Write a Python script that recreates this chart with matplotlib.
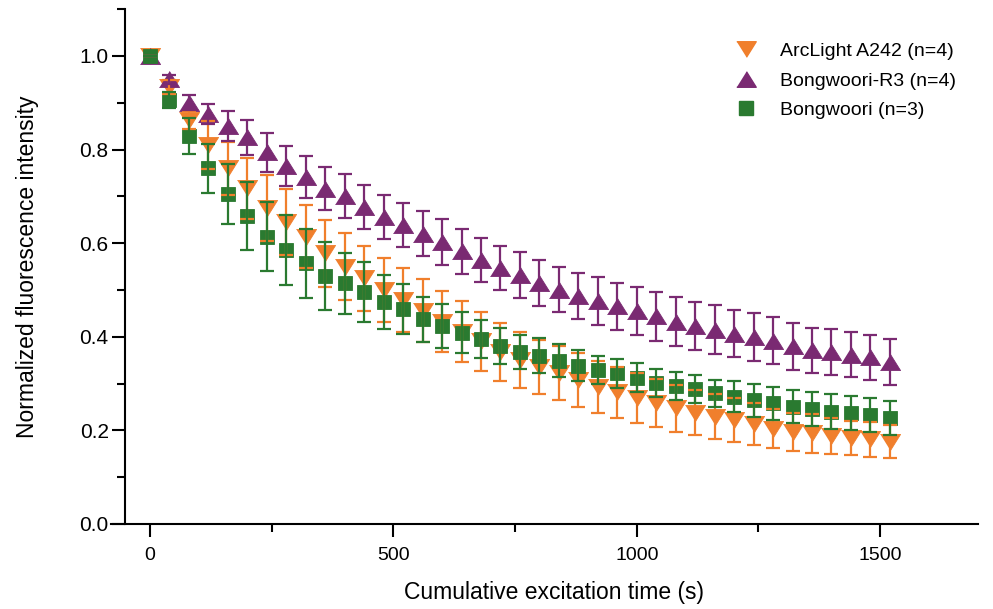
import matplotlib.pyplot as plt
from matplotlib.lines import Line2D

plt.rcParams['font.family'] = ['Liberation Sans', 'DejaVu Sans']

# cumulative excitation time (s)
time_s = [0, 40, 80, 120, 160, 200, 240, 280, 320, 360, 400, 440, 480, 520,
          560, 600, 640, 680, 720, 760, 800, 840, 880, 920, 960, 1000, 1040,
          1080, 1120, 1160, 1200, 1240, 1280, 1320, 1360, 1400, 1440, 1480, 1520]

# ArcLight A242 (n=4)
arclight = [1.0, 0.934, 0.863, 0.810, 0.760, 0.717, 0.675, 0.645, 0.614, 0.578,
            0.550, 0.525, 0.500, 0.479, 0.456, 0.432, 0.411, 0.390, 0.368, 0.350,
            0.336, 0.322, 0.308, 0.293, 0.281, 0.269, 0.258, 0.247, 0.238, 0.229,
            0.222, 0.214, 0.204, 0.197, 0.194, 0.188, 0.184, 0.181, 0.176]
arclight_sd = [0.0, 0.015, 0.020, 0.052, 0.057, 0.066, 0.071, 0.070, 0.068, 0.072,
               0.071, 0.069, 0.068, 0.068, 0.068, 0.065, 0.065, 0.063, 0.062, 0.060,
               0.058, 0.058, 0.057, 0.056, 0.054, 0.054, 0.051, 0.050, 0.048, 0.048,
               0.047, 0.045, 0.042, 0.040, 0.042, 0.038, 0.037, 0.037, 0.036]

# Bongwoori-R3 (n=4)
r3 = [1.0, 0.950, 0.900, 0.876, 0.850, 0.826, 0.794, 0.765, 0.741, 0.716,
      0.700, 0.678, 0.657, 0.639, 0.620, 0.602, 0.583, 0.564, 0.548, 0.532,
      0.515, 0.501, 0.487, 0.477, 0.465, 0.455, 0.444, 0.432, 0.423, 0.415,
      0.407, 0.400, 0.392, 0.380, 0.371, 0.368, 0.362, 0.356, 0.346]
r3_sd = [0.0, 0.010, 0.016, 0.022, 0.032, 0.038, 0.042, 0.043, 0.045, 0.046,
         0.047, 0.047, 0.047, 0.047, 0.048, 0.049, 0.048, 0.047, 0.047, 0.049,
         0.049, 0.048, 0.050, 0.051, 0.051, 0.052, 0.052, 0.052, 0.052, 0.052,
         0.051, 0.051, 0.051, 0.050, 0.048, 0.049, 0.048, 0.048, 0.049]

# Bongwoori (n=3)
bong = [1.0, 0.906, 0.829, 0.760, 0.705, 0.658, 0.614, 0.585, 0.557, 0.530,
        0.514, 0.496, 0.474, 0.459, 0.437, 0.424, 0.409, 0.395, 0.380, 0.368,
        0.360, 0.349, 0.338, 0.330, 0.322, 0.313, 0.302, 0.294, 0.288, 0.279,
        0.272, 0.264, 0.258, 0.251, 0.246, 0.240, 0.237, 0.233, 0.226]
bong_sd = [0.0, 0.018, 0.038, 0.053, 0.064, 0.073, 0.073, 0.075, 0.074, 0.072,
           0.065, 0.064, 0.057, 0.054, 0.048, 0.047, 0.043, 0.040, 0.038, 0.036,
           0.037, 0.035, 0.033, 0.030, 0.031, 0.030, 0.030, 0.030, 0.030, 0.029,
           0.033, 0.035, 0.035, 0.036, 0.036, 0.037, 0.036, 0.037, 0.036]

labels = ['ArcLight A242 (n=4)', 'Bongwoori-R3 (n=4)', 'Bongwoori (n=3)']
c_orange = '#F07F2C'
c_purple = '#7A2A72'
c_green = '#2A7A30'

# flatter (Prism-like) triangles
tri_up = [(-1, -0.8), (1, -0.8), (0, 0.8)]
tri_down = [(-1, 0.8), (1, 0.8), (0, -0.8)]

fig = plt.figure(figsize=(9.93, 6.09), dpi=100)
ax = fig.add_axes([0.1118, 0.1396, 0.8731, 0.8453])

series = [
    (arclight, arclight_sd, c_orange, tri_down, 14.5),
    (r3, r3_sd, c_purple, tri_up, 14.5),
    (bong, bong_sd, c_green, 's', 10.5),
]
# markers first, error bars on top of them
for y, sd, col, mk, ms in series:
    ax.plot(time_s, y, linestyle='none', marker=mk, markersize=ms,
            color=col, markeredgecolor=col, markeredgewidth=0.6, zorder=2)
for y, sd, col, mk, ms in series:
    ax.errorbar(time_s, y, yerr=sd, fmt='none', ecolor=col, elinewidth=1.6,
                capsize=5, capthick=1.6, zorder=3)

ax.set_xlim(-80, 1701)
ax.set_ylim(0, 1.1)
ax.spines['left'].set_position(('data', -52))
ax.spines['left'].set_bounds(0, 1.1)
ax.spines['top'].set_visible(False)
ax.spines['right'].set_visible(False)
for s in ['left', 'bottom']:
    ax.spines[s].set_linewidth(1.5)

ax.set_xticks([0, 500, 1000, 1500])
ax.set_xticks([250, 750, 1250], minor=True)
ax.set_yticks([0.0, 0.2, 0.4, 0.6, 0.8, 1.0])
ax.set_yticks([0.1, 0.3, 0.5, 0.7, 0.9, 1.1], minor=True)
ax.yaxis.set_major_formatter(plt.FormatStrFormatter('%.1f'))
ax.tick_params(which='major', length=9.5, width=1.5)
ax.tick_params(which='minor', length=6, width=1.5)
ax.tick_params(axis='x', pad=7, labelsize=14)
ax.tick_params(axis='y', pad=2, labelsize=15)

ax.set_xlabel('Cumulative excitation time (s)', fontsize=16.5)
ax.xaxis.set_label_coords(0.511, -0.111)
ax.set_ylabel('Normalized fluorescence intensity', fontsize=16.5, labelpad=29)

handles = [
    Line2D([], [], linestyle='none', marker=tri_down, markersize=14, color=c_orange),
    Line2D([], [], linestyle='none', marker=tri_up, markersize=14, color=c_purple),
    Line2D([], [], linestyle='none', marker='s', markersize=10, color=c_green),
]
ax.legend(handles, labels, loc='upper left', bbox_to_anchor=(0.69, 0.969),
          frameon=False, fontsize=14, handletextpad=0.75, labelspacing=0.6)

fig.savefig('out.png', dpi=100)
